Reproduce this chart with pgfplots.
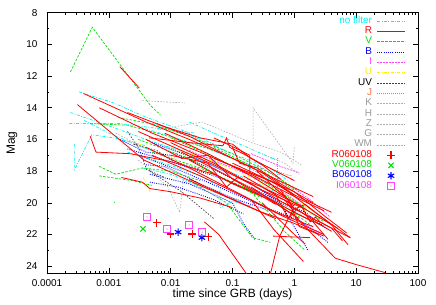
\documentclass[border=0pt]{standalone}
\usepackage{pgfplots}
\pgfplotsset{compat=1.18}
\usepackage{fontspec}
\setmainfont{Liberation Sans}
\definecolor{cnf}{rgb}{0,0.95,0.95}
\definecolor{cr}{rgb}{1,0,0}
\definecolor{cv}{rgb}{0,0.88,0}
\definecolor{cb}{rgb}{0,0,1}
\definecolor{ci}{rgb}{1,0.25,1}
\definecolor{cu}{rgb}{0.98,0.95,0}
\definecolor{cj}{rgb}{1,0.45,0.25}
\definecolor{cg}{rgb}{0.6,0.6,0.6}
\definecolor{cgl}{rgb}{0.68,0.68,0.68}
\definecolor{cuv}{rgb}{0.25,0.25,0.25}
\pgfdeclareplotmark{boxdot}{%
  \pgfpathrectangle{\pgfqpoint{-\pgfplotmarksize}{-\pgfplotmarksize}}{\pgfqpoint{2\pgfplotmarksize}{2\pgfplotmarksize}}%
  \pgfusepathqstroke
  \pgfpathcircle{\pgfpointorigin}{0.6pt}\pgfusepathqfill}
\pgfdeclareplotmark{hline}{%
  \pgfpathmoveto{\pgfqpoint{-14bp}{0bp}}\pgfpathlineto{\pgfqpoint{14bp}{0bp}}\pgfusepathqstroke}
\tikzset{
 nf/.style={color=cnf, draw=cnf, line width=0.7bp, dash pattern=on 3bp off 1.5bp on 0.8bp off 1.5bp},
 rr/.style={color=cr, draw=cr, line width=0.8bp},
 vv/.style={color=cv, draw=cv, line width=0.7bp, dash pattern=on 2.5bp off 1.5bp},
 bb/.style={color=cb, draw=cb, line width=0.9bp, dash pattern=on 0.9bp off 1.3bp},
 ii/.style={color=ci, draw=ci, line width=0.7bp, dash pattern=on 2bp off 1bp},
 uu/.style={color=cu, draw=cu, line width=0.7bp, dash pattern=on 3bp off 1.5bp on 0.8bp off 1.5bp},
 uv/.style={color=cuv, draw=cuv, line width=0.7bp, dash pattern=on 1.5bp off 1.5bp},
 jj/.style={color=cj, draw=cj, line width=0.7bp, dash pattern=on 1bp off 1bp},
 gg/.style={color=cgl, draw=cgl, line width=0.6bp, dash pattern=on 1.5bp off 1.5bp},
}
\begin{document}
\begin{tikzpicture}
\useasboundingbox (0,0) rectangle (436bp,305bp);
\begin{axis}[
 at={(47bp,31.7bp)}, anchor=south west,
 scale only axis, width=371bp, height=260.6bp,
 xmode=log, xmin=1e-4, xmax=100,
 ymin=8, ymax=24.45, y dir=reverse,
 xtick={1e-4,1e-3,0.01,0.1,1,10,100},
 xticklabels={0.0001,0.001,0.01,0.1,1,10,100},
 minor xtick={2e-4,3e-4,4e-4,5e-4,6e-4,7e-4,8e-4,9e-4,
  2e-3,3e-3,4e-3,5e-3,6e-3,7e-3,8e-3,9e-3,
  0.02,0.03,0.04,0.05,0.06,0.07,0.08,0.09,
  0.2,0.3,0.4,0.5,0.6,0.7,0.8,0.9,
  2,3,4,5,6,7,8,9,20,30,40,50,60,70,80,90},
 ytick={8,10,...,24}, minor ytick={9,11,...,23},
 tick align=inside,
 major tick length=5bp, minor tick length=2.5bp,
 tick style={black, line width=0.6bp},
 axis line style={line width=0.8bp},
 ticklabel style={font=\fontsize{10}{12}\selectfont},
 /pgf/number format/assume math mode=true,
 yticklabel style={xshift=-6bp},
 xticklabel style={yshift=-3bp},
 xlabel={time since GRB (days)}, ylabel={Mag},
 label style={font=\fontsize{12}{14}\selectfont},
 xlabel style={at={(axis description cs:0.5,-0.092)}, anchor=base},
 ylabel style={at={(axis description cs:-0.0863,0.5)}, anchor=base},
 legend style={draw=none, fill=none, at={(0.965,0.987)}, anchor=north east,
   inner sep=0pt, outer sep=0pt, column sep=5bp, row sep=0pt,
   font=\fontsize{10}{12}\selectfont,
   nodes={inner sep=0pt, text height=7.3bp, text depth=3bp}},
 legend cell align=right,
 legend plot pos=right,
 legend image code/.code={\draw[mark repeat=2,mark phase=2,#1] plot coordinates {(0bp,0bp) (14bp,0bp) (28bp,0bp)};},
]
\addlegendimage{only marks, mark=hline, color=cnf, draw=cnf, line width=0.7bp, mark options={dash pattern=on 3bp off 1.5bp on 0.8bp off 1.5bp}}\addlegendentry[text=cnf]{no filter}
\addlegendimage{only marks, mark=hline, color=cr, draw=cr, line width=0.8bp, mark options={solid}}\addlegendentry[text=cr]{R}
\addlegendimage{only marks, mark=hline, color=cv, draw=cv, line width=0.7bp, mark options={dash pattern=on 2.5bp off 1.5bp}}\addlegendentry[text=cv]{V}
\addlegendimage{only marks, mark=hline, color=cb, draw=cb, line width=0.9bp, mark options={dash pattern=on 0.9bp off 1.3bp}}\addlegendentry[text=cb]{B}
\addlegendimage{only marks, mark=hline, color=ci, draw=ci, line width=0.7bp, mark options={dash pattern=on 2bp off 1bp}}\addlegendentry[text=ci]{I}
\addlegendimage{only marks, mark=hline, color=cu, draw=cu, line width=0.7bp, mark options={dash pattern=on 3bp off 1.5bp on 0.8bp off 1.5bp}}\addlegendentry[text=cu]{U}
\addlegendimage{only marks, mark=hline, color=cuv, draw=cuv, line width=0.7bp, mark options={dash pattern=on 1.5bp off 1.5bp}}\addlegendentry[text=black]{UV}
\addlegendimage{only marks, mark=hline, color=cj, draw=cj, line width=0.7bp, mark options={dash pattern=on 1bp off 1bp}}\addlegendentry[text=cj]{J}
\addlegendimage{only marks, mark=hline, color=cgl, draw=cgl, line width=0.6bp, mark options={dash pattern=on 1.5bp off 1.5bp}}\addlegendentry[text=cg]{K}
\addlegendimage{only marks, mark=hline, color=cgl, draw=cgl, line width=0.6bp, mark options={dash pattern=on 1.5bp off 1.5bp}}\addlegendentry[text=cg]{H}
\addlegendimage{only marks, mark=hline, color=cgl, draw=cgl, line width=0.6bp, mark options={dash pattern=on 1.5bp off 1.5bp}}\addlegendentry[text=cg]{Z}
\addlegendimage{only marks, mark=hline, color=cgl, draw=cgl, line width=0.6bp, mark options={dash pattern=on 1.5bp off 1.5bp}}\addlegendentry[text=cg]{G}
\addlegendimage{only marks, mark=hline, color=cgl, draw=cgl, line width=0.6bp, mark options={dash pattern=on 1.5bp off 1.5bp}}\addlegendentry[text=cg]{WM}
\addlegendimage{only marks, mark=+, mark size=3.7bp, color=cr, draw=cr, line width=1.1bp}\addlegendentry[text=cr]{R060108}
\addlegendimage{only marks, mark=x, mark size=3.7bp, color=cv, draw=cv, line width=1.1bp}\addlegendentry[text=cv]{V060108}
\addlegendimage{only marks, mark=asterisk, mark size=3.7bp, color=cb, draw=cb, line width=1.1bp}\addlegendentry[text=cb]{B060108}
\addlegendimage{only marks, mark=boxdot, mark size=3.7bp, color=ci, draw=ci, line width=1bp}\addlegendentry[text=ci]{I060108}
% no filter
\addplot[nf, forget plot] coordinates {(3.3e-4,13.0) (0.0012,13.7) (0.004,14.6) (0.015,15.4) (0.05,16.3)};
\addplot[nf, forget plot] coordinates {(2.4e-4,14.3) (0.0011,15.2) (0.004,16.0) (0.02,16.9) (0.08,17.7)};
\addplot[nf, forget plot] coordinates {(2.3e-4,15.0) (0.0015,15.0) (0.006,15.3) (0.025,15.6)};
\addplot[nf, forget plot] coordinates {(2.8e-4,16.3) (2.8e-4,17.9) (5.3e-4,15.7) (0.0012,15.9) (0.004,16.4)};
\addplot[nf, forget plot] coordinates {(4e-4,14.8) (0.001,15.6) (0.003,16.4) (0.008,17.0)};
\addplot[nf, forget plot] coordinates {(0.003,15.2) (0.01,15.8) (0.03,16.4) (0.1,17.2) (0.3,17.9)};
\addplot[nf, forget plot] coordinates {(0.005,15.0) (0.02,15.7) (0.1,16.9) (0.4,17.8) (0.8,18.6)};
\addplot[nf, forget plot] coordinates {(0.008,16.4) (0.04,17.5) (0.2,18.6) (0.5,19.3) (1.5,20.3)};
\addplot[nf, forget plot] coordinates {(0.002,16.8) (0.008,17.5) (0.03,18.3) (0.063,19.0) (0.063,20.3) (0.1,19.9) (0.2,20.2)};
\addplot[nf, forget plot] coordinates {(0.15,17.6) (0.4,18.5) (0.9,19.4) (1.5,20.1)};
\addplot[nf, forget plot] coordinates {(0.0035,17.8) (0.01,18.2) (0.05,19.3) (0.15,20.0)};
\addplot[nf, forget plot] coordinates {(0.02,14.9) (0.05,15.6) (0.2,16.6) (0.5,17.3)};
% gray
\addplot[gg, forget plot] coordinates {(0.0035,13.55) (0.017,13.7)};
\addplot[gg, forget plot] coordinates {(0.006,15.4) (0.032,14.9) (0.2,16.2) (0.6,16.8) (1.3,17.6)};
\addplot[gg, forget plot] coordinates {(0.215,16.15) (0.215,14.0) (0.95,17.5) (1.0,16.5)};
\addplot[gg, forget plot] coordinates {(0.003,17.3) (0.009,19.0) (0.014,20.6) (0.016,18.6) (0.04,19.3)};
\addplot[gg, forget plot] coordinates {(0.0013,15.6) (0.004,16.6) (0.012,17.2)};
\addplot[gg, forget plot] coordinates {(0.3,16.9) (0.7,17.5) (1.2,18.2)};
% J
\addplot[jj, forget plot] coordinates {(0.1,16.6) (0.19,17.1) (0.35,17.7) (0.6,18.1) (0.9,18.3)};
\addplot[jj, forget plot] coordinates {(0.53,17.2) (0.53,19.3)};
% UV
\addplot[uv, forget plot] coordinates {(0.002,15.5) (0.003,16.5) (0.0041,17.9) (0.008,18.4)};
\addplot[uv, forget plot] coordinates {(0.0046,18.0) (0.015,19.3) (0.05,21.0)};
\addplot[uv, forget plot] coordinates {(0.0025,16.3) (0.006,16.7) (0.01,17.3) (0.03,17.9)};
% U
\addplot[uu, forget plot] coordinates {(0.0036,18.4) (0.0046,19.3)};
\addplot[uu, forget plot] coordinates {(0.3,18.8) (1,19.8) (2,20.5)};
\addplot[uu, forget plot] coordinates {(0.01,16.5) (0.05,17.4) (0.2,18.4) (0.5,19.2)};
\addplot[uu, forget plot] coordinates {(0.8,19.6) (1.2,20.3) (2.5,21.0)};
\addplot[uu, forget plot] coordinates {(0.0025,16.1) (0.0046,16.6)};
% I
\addplot[ii, forget plot] coordinates {(0.25,17.6) (0.7,18.7) (1.8,19.8) (3.8,20.9)};
\addplot[ii, forget plot] coordinates {(0.2,16.9) (0.59,17.7) (1.2,18.1)};
\addplot[ii, forget plot] coordinates {(0.02,16.7) (0.1,17.8) (0.5,19.0) (1.5,20.3)};
\addplot[ii, forget plot] coordinates {(0.5,20.0) (1.5,21.4) (3,22.0)};
% B
\addplot[bb, forget plot] coordinates {(0.002,16.6) (0.01,17.4) (0.05,18.3) (0.2,19.2) (1,20.4) (2,21.0)};
\addplot[bb, forget plot] coordinates {(0.003,17.0) (0.015,18.0) (0.06,19.0) (0.3,20.2) (1.2,21.1) (3.5,22.5)};
\addplot[bb, forget plot] coordinates {(0.005,16.2) (0.03,17.3) (0.2,18.8) (0.59,20.0) (1.66,23.0)};
\addplot[bb, forget plot] coordinates {(0.0046,18.2) (0.02,18.8) (0.1,20.0) (0.15,21.3) (0.23,22.3)};
\addplot[bb, forget plot] coordinates {(0.01,16.8) (0.05,17.9) (0.3,19.4) (1.5,20.6) (3.5,21.7)};
\addplot[bb, forget plot] coordinates {(0.004,17.6) (0.008,17.7) (0.03,18.8) (0.1,19.7) (0.4,20.5)};
\addplot[bb, forget plot] coordinates {(0.0046,18.7) (0.013,19.0) (0.05,19.8) (0.15,20.7)};
\addplot[bb, forget plot] coordinates {(0.0015,16.0) (0.004,16.8) (0.01,17.0)};
% V
\addplot[vv, forget plot] coordinates {(2.4e-4,11.74) (5.4e-4,8.92) (0.0046,13.8) (0.0068,14.46)};
\addplot[vv, forget plot] coordinates {(5e-4,15.0) (0.002,15.1) (0.006,15.6) (0.02,16.2) (0.06,16.8)};
\addplot[vv, forget plot] coordinates {(0.0014,14.6) (0.0046,15.0) (0.02,15.8) (0.1,16.9) (0.5,18.3) (1.2,19.3)};
\addplot[vv, forget plot] coordinates {(7e-4,17.7) (0.0013,18.2) (0.0035,17.8) (0.01,18.0) (0.03,18.6)};
\addplot[vv, forget plot] coordinates {(7e-4,18.3) (0.0024,18.6) (0.005,18.9)};
\addplot[vv, forget plot] coordinates {(0.005,16.8) (0.03,17.8) (0.15,19.0) (0.8,20.4) (2,21.5)};
\addplot[vv, forget plot] coordinates {(0.01,15.9) (0.05,17.1) (0.3,18.6) (1,19.9) (3,21.2)};
\addplot[vv, forget plot] coordinates {(0.02,18.6) (0.08,20.0) (0.21,22.2) (0.41,22.5)};
\addplot[vv, forget plot] coordinates {(0.2,19.3) (0.71,21.85) (1.5,23.0)};
\addplot[vv, forget plot] coordinates {(0.003,16.0) (0.02,17.2) (0.08,18.6) (0.3,19.7)};
\addplot[vv, forget plot] coordinates {(0.00121,19.95) (0.00125,19.99)};
\addplot[vv, forget plot] coordinates {(0.05,16.5) (0.3,18.0) (1,19.2)};
% R
\addplot[rr, forget plot] coordinates {(3.9e-4,13.1) (0.004,14.9) (0.02,16.0) (0.1,17.2) (0.5,18.5) (2,19.6)};
\addplot[rr, forget plot] coordinates {(3.1e-4,13.8) (0.0037,17.3) (0.02,18.6) (0.1,19.8) (0.5,21.0)};
\addplot[rr, forget plot] coordinates {(7e-4,14.0) (0.005,15.6) (0.03,16.8) (0.2,18.2) (1,19.6) (3,20.5)};
\addplot[rr, forget plot] coordinates {(5e-4,15.8) (6.2e-4,16.8) (0.0022,16.9) (0.01,17.4) (0.05,18.2) (0.3,19.6)};
\addplot[rr, forget plot] coordinates {(0.004,16.5) (0.02,17.8) (0.1,19.2) (0.5,20.6) (2,21.5)};
\addplot[rr, forget plot] coordinates {(0.0016,18.4) (0.0035,18.7) (0.0046,19.1) (0.01,19.3) (0.03,19.7) (0.1,20.3)};
\addplot[rr, forget plot] coordinates {(0.006,15.0) (0.02,15.8) (0.08,17.0) (0.3,18.1) (1,19.5) (4,20.6)};
\addplot[rr, forget plot] coordinates {(0.008,15.6) (0.04,16.9) (0.2,18.3) (1,20.0) (5,21.6)};
\addplot[rr, forget plot] coordinates {(0.01,16.2) (0.05,17.5) (0.2,18.8) (0.6,19.9) (2,21.0) (8,22.2)};
\addplot[rr, forget plot] coordinates {(0.015,16.8) (0.06,18.0) (0.25,19.3) (1,20.6) (3,21.5)};
\addplot[rr, forget plot] coordinates {(0.02,17.3) (0.1,18.8) (0.4,19.8) (1.2,21.0)};
\addplot[rr, forget plot] coordinates {(0.0045,15.9) (0.02,16.2) (0.07,16.4) (0.08,15.9) (0.09,16.5) (0.15,16.9) (0.3,17.6) (0.6,18.5)};
\addplot[rr, forget plot] coordinates {(0.05,15.9) (0.12,16.6) (0.19,17.0) (0.19,18.1) (0.4,18.6) (1,19.5)};
\addplot[rr, forget plot] coordinates {(0.1,17.5) (0.59,18.9) (2,20.5) (8,22.2)};
\addplot[rr, forget plot] coordinates {(0.3,19.0) (1.3,20.2) (1.8,21.2) (2.2,20.9) (2.6,21.2) (4,21.6) (6,22.4)};
\addplot[rr, forget plot] coordinates {(0.2,19.0) (1,20.8) (4.6,23.5) (10,23.9) (29,24.4)};
\addplot[rr, forget plot] coordinates {(0.035,21.2) (0.06,22.0) (0.17,24.5)};
\addplot[rr, forget plot] coordinates {(0.41,24.5) (0.58,22.1) (0.8,21.0) (1,20.3)};
\addplot[rr, forget plot] coordinates {(0.45,22.1) (1.8,22.2)};
\addplot[rr, forget plot] coordinates {(0.2,19.8) (0.47,21.7) (1.4,23.7)};
\addplot[rr, forget plot] coordinates {(0.3,20.0) (1,22.0) (1.5,22.6)};
\addplot[rr, forget plot] coordinates {(0.003,15.5) (0.01,16.4) (0.05,17.6) (0.3,19.2) (1.5,20.4)};
\addplot[rr, forget plot] coordinates {(0.005,17.0) (0.03,18.3) (0.15,19.6) (0.7,20.9) (3,22.0)};
\addplot[rr, forget plot] coordinates {(0.01,17.0) (0.04,17.5) (0.08,19.0) (0.12,18.4) (0.3,19.0) (1,20.2)};
\addplot[rr, forget plot] coordinates {(0.05,17.2) (0.3,18.4) (1,19.3) (3,20.8) (7,21.9)};
\addplot[rr, forget plot] coordinates {(0.1,16.5) (0.13,17.5) (0.25,17.8) (0.6,18.8) (2,20.0)};
\addplot[rr, forget plot] coordinates {(0.02,18.5) (0.08,19.6) (0.3,20.6) (1,21.3) (3,22.1)};
\addplot[rr, forget plot] coordinates {(0.15,18.3) (0.5,19.5) (0.8,21) (1.1,20.4) (2,21.1) (4,21.8)};
\addplot[rr, forget plot] coordinates {(0.6,19.2) (1,20.4) (1.5,20.1) (4,21.4) (7.4,22.65)};
\addplot[rr, forget plot] coordinates {(0.004,16.0) (0.015,17.2) (0.04,17.0) (0.1,18.5) (0.5,20.1)};
\addplot[rr, forget plot] coordinates {(0.0015,11.4) (0.0031,12.75)};
\addplot[rr, forget plot] coordinates {(0.002,14.3) (0.008,15.2) (0.03,15.9) (0.1,16.3) (0.2,17.2) (0.5,18.0) (1,18.6)};
\addplot[rr, forget plot] coordinates {(0.7,19.8) (1,20.6) (2,21.2) (3.5,22.3)};
\addplot[rr, forget plot] coordinates {(0.25,18.0) (0.5,19.1) (0.8,19.8) (1.2,21.5) (2.5,22.0)};
% GRB 060108
\addplot[only marks, mark=+, mark size=3.7bp, color=cr, draw=cr, line width=1.1bp, forget plot] coordinates {(0.006,21.27) (0.01,21.97) (0.0222,21.97) (0.0403,22.15)};
\addplot[only marks, mark=x, mark size=3.7bp, color=cv, draw=cv, line width=1.1bp, forget plot] coordinates {(0.00357,21.65)};
\addplot[only marks, mark=asterisk, mark size=3.7bp, color=cb, draw=cb, line width=1.1bp, forget plot] coordinates {(0.0132,21.85) (0.032,22.2)};
\addplot[only marks, mark=boxdot, mark size=3.7bp, color=ci, draw=ci, line width=1bp, forget plot] coordinates {(0.00415,20.89) (0.00875,21.65) (0.0199,21.4) (0.0322,21.85)};
\end{axis}
\end{tikzpicture}
\end{document}
